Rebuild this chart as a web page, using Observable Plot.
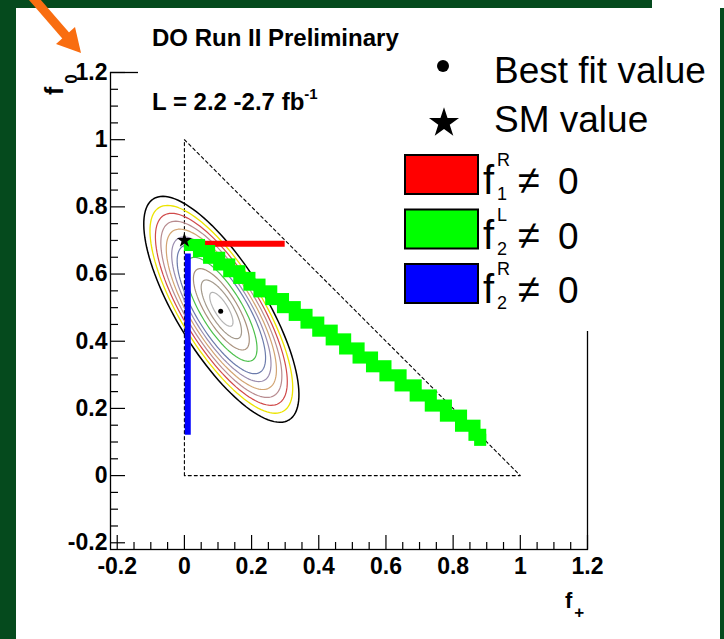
<!DOCTYPE html>
<html><head><meta charset="utf-8">
<script src="https://cdn.jsdelivr.net/npm/d3@7"></script>
<script src="https://cdn.jsdelivr.net/npm/@observablehq/plot@0.6"></script>
<style>
html,body{margin:0;padding:0;background:#054a1d;}
#page{position:relative;width:724px;height:639px;overflow:hidden;background:#054a1d;}
#panel{position:absolute;left:16px;top:8px;width:704px;height:631px;background:#fff;}
#corner{position:absolute;left:652px;top:0;width:72px;height:8px;background:#fff;}
#chart,#overlay{position:absolute;left:0;top:0;}
</style></head>
<body><div id="page"><div id="panel"></div><div id="corner"></div><div id="chart"></div><div id="overlay"></div></div>
<script>
// ---- data ----
const xMajorTicks = [-0.2, 0, 0.2, 0.4, 0.6, 0.8, 1, 1.2];
const yMajorTicks = [-0.2, 0, 0.2, 0.4, 0.6, 0.8, 1, 1.2];
const minorTicks = [-0.15, -0.1, -0.05, 0.05, 0.1, 0.15, 0.25, 0.3, 0.35, 0.45, 0.5, 0.55, 0.65, 0.7, 0.75, 0.85, 0.9, 0.95, 1.05, 1.1, 1.15];

const bestFit = [{fPlus: 0.108, f0: 0.489}];
const smValue = [{fPlus: 0.0, f0: 0.70}];

// physical region f0 + f+ <= 1
const triangleFPlus = [0, 0, 1, 0];
const triangleF0 = [0, 1, 0, 0];

// likelihood contours (ellipse approximation)
const contourCenter = [0.11, 0.495];
const contourSemiMajor = 0.386;
const contourSemiMinor = 0.132;
const contourAngleDeg = -58.5;
const contourScale = [1.00, 0.92, 0.85, 0.78, 0.71, 0.64, 0.57, 0.46, 0.36, 0.26, 0.15];
const contourColor = ["#000000", "#ece400", "#d04a4a", "#b88c90", "#d2a472", "#9a8cae", "#6c7cac", "#4cc04c", "#a8907c", "#a49a8c", "#b4b4b4"];
const contourWidth = [1.5, 1.3, 1.2, 1.2, 1.2, 1.2, 1.2, 1.2, 1.2, 1.2, 1.2];

// f1R != 0
const redF0 = 0.69, redFPlusFrom = 0.0, redFPlusTo = 0.30;
// f2R != 0
const blueFPlus = 0.01, blueF0From = 0.12, blueF0To = 0.66;
// f2L != 0 (staircase)
const greenFPlus = [0.018, 0.045, 0.075, 0.105, 0.135, 0.165, 0.195, 0.225, 0.26, 0.295, 0.33, 0.365, 0.40, 0.44, 0.48, 0.52, 0.56, 0.60, 0.645, 0.69, 0.735, 0.78, 0.825, 0.865, 0.882];
const greenF0   = [0.685, 0.667, 0.647, 0.627, 0.607, 0.587, 0.567, 0.547, 0.524, 0.500, 0.477, 0.454, 0.430, 0.404, 0.377, 0.350, 0.324, 0.297, 0.267, 0.237, 0.207, 0.177, 0.147, 0.120, 0.105];

const legendNames = ["Best fit value", "SM value"];
const couplingSup = ["R", "L", "R"];
const couplingSub = ["1", "2", "2"];
const couplingColor = ["#ff0000", "#00ff00", "#0000ff"];

// ---- build tables ----
const triangle = triangleFPlus.map((x, i) => ({x, y: triangleF0[i]}));
const halfBand = 0.018; // half thickness of the staircase band (style)
const greenRuns = greenFPlus.map((x, i) => ({
  x1: x - halfBand,
  x2: (i + 1 < greenFPlus.length ? greenFPlus[i + 1] : x) + halfBand,
  y1: greenF0[i] - halfBand,
  y2: greenF0[i] + halfBand
}));
const th = contourAngleDeg * Math.PI / 180;
const contourLines = contourScale.map((s, k) => {
  const a = contourSemiMajor * s, b = contourSemiMinor * s;
  return d3.range(0, 361, 3).map(deg => {
    const t = deg * Math.PI / 180;
    return {
      x: contourCenter[0] + a * Math.cos(t) * Math.cos(th) - b * Math.sin(t) * Math.sin(th),
      y: contourCenter[1] + a * Math.cos(t) * Math.sin(th) + b * Math.sin(t) * Math.cos(th)
    };
  });
});

const W = 724, H = 639, mL = 110, mR = 137, mT = 72, mB = 90;
const fw = W - mL - mR, fh = H - mT - mB;
const font = "'Liberation Sans', Arial, Helvetica, sans-serif";

const chart = Plot.plot({
  width: W, height: H,
  marginLeft: mL, marginRight: mR, marginTop: mT, marginBottom: mB,
  x: {domain: [-0.22, 1.2]},
  y: {domain: [-0.22, 1.2]},
  style: {background: "transparent", fontFamily: font, color: "black", overflow: "visible"},
  marks: [
    Plot.line(triangle, {x: "x", y: "y", stroke: "black", strokeWidth: 1.1, strokeDasharray: "3,3"}),
    ...contourLines.map((pts, k) => Plot.line(pts, {x: "x", y: "y", stroke: contourColor[k], strokeWidth: contourWidth[k], curve: "linear"})),
    Plot.ruleX([{x: blueFPlus, y1: blueF0From, y2: blueF0To}], {x: "x", y1: "y1", y2: "y2", stroke: couplingColor[2], strokeWidth: 6}),
    Plot.ruleY([{y: redF0, x1: redFPlusFrom, x2: redFPlusTo}], {y: "y", x1: "x1", x2: "x2", stroke: couplingColor[0], strokeWidth: 6}),
    Plot.rect(greenRuns, {x1: "x1", x2: "x2", y1: "y1", y2: "y2", fill: couplingColor[1], stroke: null}),
    Plot.dot(smValue, {x: "fPlus", y: "f0", symbol: "star", r: 4.7, fill: "black", stroke: null}),
    Plot.dot(bestFit, {x: "fPlus", y: "f0", r: 2.5, fill: "black", stroke: null}),
    Plot.frame({stroke: "black", strokeWidth: 1.3}),
    Plot.tickY(yMajorTicks, {y: d => d, insetRight: fw - 15, stroke: "black", strokeWidth: 1.2}),
    Plot.tickY(minorTicks, {y: d => d, insetRight: fw - 8, stroke: "black", strokeWidth: 1.2}),
    Plot.tickX(xMajorTicks, {x: d => d, insetTop: fh - 14, stroke: "black", strokeWidth: 1.2}),
    Plot.tickX(minorTicks, {x: d => d, insetTop: fh - 7, stroke: "black", strokeWidth: 1.2}),
    Plot.axisY({ticks: yMajorTicks, tickSize: 0, tickPadding: 3, label: null, tickFormat: d => String(d), fontSize: 23, fontWeight: "bold"}),
    Plot.axisX({ticks: xMajorTicks, tickSize: 0, tickPadding: 8, label: null, tickFormat: d => String(d), fontSize: 23, fontWeight: "bold"})
  ]
});
document.getElementById("chart").appendChild(chart);

// ---- overlay: paves, titles, legend, axis titles, arrow ----
const svg = d3.create("svg").attr("width", W).attr("height", H)
  .style("font-family", font).style("overflow", "visible");
// white paves of the text boxes (hide parts of the frame as in the original)
svg.append("rect").attr("x", 138).attr("y", 15).attr("width", 257).attr("height", 110).attr("fill", "white");
svg.append("rect").attr("x", 395).attr("y", 15).attr("width", 322).attr("height", 316).attr("fill", "white");

svg.append("text").attr("x", 152).attr("y", 46).attr("font-size", 24).attr("font-weight", "bold").text("DO Run II Preliminary");
const lt = svg.append("text").attr("x", 152).attr("y", 110).attr("font-size", 24).attr("font-weight", "bold");
lt.append("tspan").text("L = 2.2 -2.7 fb");
lt.append("tspan").attr("dy", -11).attr("font-size", 15).text("-1");

// legend
svg.append("circle").attr("cx", 443).attr("cy", 66).attr("r", 6).attr("fill", "black");
svg.append("path").attr("transform", "translate(444,123)").attr("d", d3.symbol(d3.symbolStar, 280)()).attr("fill", "black");
svg.append("text").attr("x", 494).attr("y", 83).attr("font-size", 37).text(legendNames[0]);
svg.append("text").attr("x", 494).attr("y", 132).attr("font-size", 37).text(legendNames[1]);
const rowTop = [155, 209.5, 264];
couplingColor.forEach((c, i) => {
  const t = rowTop[i];
  svg.append("rect").attr("x", 405).attr("y", t).attr("width", 73).attr("height", 39).attr("fill", c).attr("stroke", "black").attr("stroke-width", 2);
  svg.append("text").attr("x", 483).attr("y", t + 39).attr("font-size", 40).text("f");
  svg.append("text").attr("x", 497).attr("y", t + 11).attr("font-size", 18).text(couplingSup[i]);
  svg.append("text").attr("x", 497).attr("y", t + 45).attr("font-size", 18).text(couplingSub[i]);
  svg.append("text").attr("x", 518).attr("y", t + 39).attr("font-size", 40).text("\u2260");
  svg.append("text").attr("x", 558).attr("y", t + 39).attr("font-size", 37).text("0");
});

// axis titles
const yt = svg.append("text").attr("transform", "translate(63,95) rotate(-90)").attr("font-size", 25).attr("font-weight", "bold");
yt.append("tspan").text("f");
yt.append("tspan").attr("dy", 14).attr("dx", 3).attr("font-size", 17).text("0");
const xt = svg.append("text").attr("x", 565).attr("y", 608).attr("font-size", 22).attr("font-weight", "bold");
xt.append("tspan").text("f");
xt.append("tspan").attr("dy", 10).attr("dx", 2).attr("font-size", 17).text("+");

// orange arrow
svg.append("line").attr("x1", 28).attr("y1", -8).attr("x2", 67).attr("y2", 37).attr("stroke", "#f96d10").attr("stroke-width", 9);
svg.append("path").attr("d", "M81,53 L56,44 L75,27 Z").attr("fill", "#f96d10");

document.getElementById("overlay").appendChild(svg.node());
</script>
</body></html>
